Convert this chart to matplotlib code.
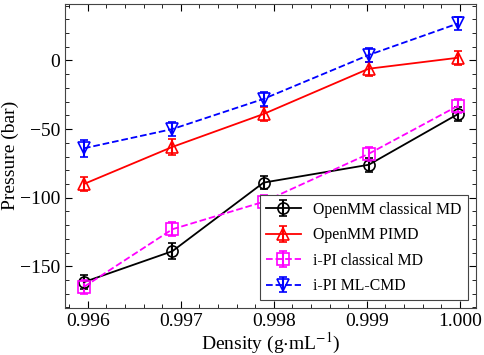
import matplotlib
matplotlib.use('Agg')
import matplotlib.pyplot as plt
from matplotlib.ticker import MultipleLocator

plt.rcParams['font.family'] = ['Liberation Serif', 'DejaVu Serif']
plt.rcParams['mathtext.fontset'] = 'stix'

density = [0.99596, 0.99691, 0.99789, 0.99902, 0.99998]

openmm_md = [-161.5, -139, -89, -76, -39]
openmm_md_err = [5, 6, 5, 5, 5]
openmm_pimd = [-90, -63, -39, -6, 2]
openmm_pimd_err = [5, 6, 5, 5, 5]
ipi_md = [-165, -123, -103, -68, -33]
ipi_md_err = [5, 5, 5, 5, 5]
ipi_cmd = [-64, -50, -28, 4, 27]
ipi_cmd_err = [6, 5, 5, 5, 5]

series = [
    (openmm_md, openmm_md_err, 'OpenMM classical MD', 'black', 'o', '-'),
    (openmm_pimd, openmm_pimd_err, 'OpenMM PIMD', 'red', '^', '-'),
    (ipi_md, ipi_md_err, 'i-PI classical MD', 'magenta', 's', '--'),
    (ipi_cmd, ipi_cmd_err, 'i-PI ML-CMD', 'blue', 'v', '--'),
]

fig, ax = plt.subplots(figsize=(4.84, 3.55), dpi=100)
fig.subplots_adjust(left=0.135, right=0.983, top=0.99, bottom=0.132)

for y, err, label, color, marker, ls in series:
    ax.errorbar(density, y, yerr=err, label=label, color=color, marker=marker,
                linestyle=ls, markerfacecolor='none', markeredgecolor=color,
                markersize=8, markeredgewidth=1.2, linewidth=1.3,
                capsize=3, elinewidth=1.5, capthick=1.5)

ax.set_xlim(0.99576, 1.00017)
ax.set_ylim(-180.5, 41.5)
ax.xaxis.set_major_locator(MultipleLocator(0.001))
ax.xaxis.set_minor_locator(MultipleLocator(0.0002))
ax.yaxis.set_major_locator(MultipleLocator(50))
ax.yaxis.set_minor_locator(MultipleLocator(10))
ax.xaxis.set_major_formatter(matplotlib.ticker.FormatStrFormatter('%.3f'))
ax.yaxis.set_major_formatter(matplotlib.ticker.FuncFormatter(
    lambda v, p: f'{int(v)}'.replace('-', '\u2212')))
ax.tick_params(which='both', direction='in', top=True, right=True, labelsize=14)
ax.tick_params(which='major', length=5)
ax.tick_params(which='minor', length=3)
for s in ax.spines.values():
    s.set_color('#444444')

ax.set_xlabel('Density (g$\\cdot$mL$^{-1}$)', fontsize=14, labelpad=1)
ax.set_ylabel('Pressure (bar)', fontsize=14, labelpad=1)

leg = ax.legend(loc='lower right', fontsize=11.3, fancybox=False,
                edgecolor='#444444', framealpha=1, handlelength=2.2,
                labelspacing=0.6, borderaxespad=0.5)
leg.get_frame().set_linewidth(0.8)

plt.savefig('out.png', dpi=100)
